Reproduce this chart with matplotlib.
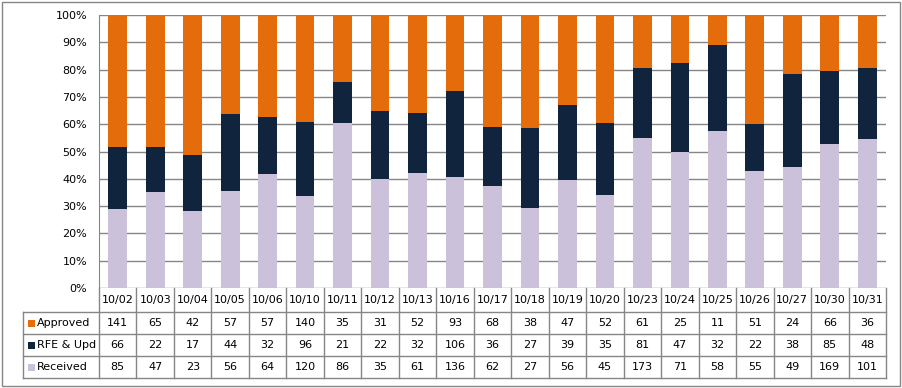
import matplotlib.pyplot as plt
import numpy as np
from matplotlib.patches import Rectangle
from matplotlib.ticker import PercentFormatter

dates = ["10/02", "10/03", "10/04", "10/05", "10/06", "10/10", "10/11", "10/12",
         "10/13", "10/16", "10/17", "10/18", "10/19", "10/20", "10/23", "10/24",
         "10/25", "10/26", "10/27", "10/30", "10/31"]
approved = [141, 65, 42, 57, 57, 140, 35, 31, 52, 93, 68, 38, 47, 52, 61, 25, 11, 51, 24, 66, 36]
rfe_upd = [66, 22, 17, 44, 32, 96, 21, 22, 32, 106, 36, 27, 39, 35, 81, 47, 32, 22, 38, 85, 48]
received = [85, 47, 23, 56, 64, 120, 86, 35, 61, 136, 62, 27, 56, 45, 173, 71, 58, 55, 49, 169, 101]

series = [("Approved", approved, "#E46C0A"),
          ("RFE & Upd", rfe_upd, "#10243E"),
          ("Received", received, "#CCC1DA")]

plt.rcParams["font.family"] = ["DejaVu Sans"]
GRID = "#868686"
FS = 8

W, H = 903, 388
fig = plt.figure(figsize=(W / 100, H / 100), dpi=100)
left, right, top, bottom = 99, 886, 15, 288
ax = fig.add_axes([left / W, (H - bottom) / H, (right - left) / W, (bottom - top) / H])

x = np.arange(len(dates))
total = np.array(approved) + np.array(rfe_upd) + np.array(received)
base = np.zeros(len(dates))
for name, vals, color in reversed(series):
    frac = np.array(vals) / total
    ax.bar(x, frac, 0.5, bottom=base, color=color, zorder=3)
    base += frac

ax.set_xlim(-0.5, len(dates) - 0.5)
ax.set_ylim(0, 1)
ax.set_yticks(np.arange(0, 1.01, 0.1))
ax.yaxis.set_major_formatter(PercentFormatter(1.0, decimals=0))
ax.tick_params(axis="y", length=0, labelsize=FS, pad=8.5)
ax.tick_params(axis="x", length=0, labelbottom=False)
ax.grid(axis="y", color=GRID, linewidth=1, zorder=0)
for s in ["top", "right", "bottom"]:
    ax.spines[s].set_visible(False)
ax.spines["left"].set_color(GRID)

# data table below the plot
tr = ax.get_xaxis_transform()
ph = bottom - top
def ya(py):
    return (bottom - py) / ph

rows_y = [288, 312, 334, 356, 378]
cw = (right - left) / len(dates)
xl = -0.5 - (left - 23) / cw
xr = len(dates) - 0.5
kw = dict(transform=tr, clip_on=False, color=GRID, linewidth=1)
ax.plot([-0.5, -0.5], [ya(288), ya(378)], **kw)
for i in range(1, len(dates) + 1):
    ax.plot([i - 0.5, i - 0.5], [ya(288), ya(378)], **kw)
ax.plot([xl, xl], [ya(312), ya(378)], **kw)
ax.plot([xl, xr], [ya(312), ya(312)], **kw)
for py in rows_y[2:]:
    ax.plot([xl, xr], [ya(py), ya(py)], **kw)

for i, d in enumerate(dates):
    ax.text(i, ya(300), d, transform=tr, ha="center", va="center", fontsize=FS)
for r, (name, vals, color) in enumerate(series):
    yc = ya((rows_y[r + 1] + rows_y[r + 2]) / 2)
    for i, v in enumerate(vals):
        ax.text(i, yc, str(v), transform=tr, ha="center", va="center", fontsize=FS)
    sx = xl + 5 / cw
    ax.add_patch(Rectangle((sx, yc - 3.5 / ph), 7 / cw, 7 / ph, transform=tr,
                           clip_on=False, facecolor=color, edgecolor="none"))
    ax.text(xl + 14 / cw, yc, name, transform=tr, ha="left", va="center", fontsize=FS)

fig.patches.append(Rectangle((2 / W, 2 / H), (900 - 2) / W, (386 - 2) / H,
                             transform=fig.transFigure, fill=False,
                             edgecolor=GRID, linewidth=1))

fig.savefig("out.png", dpi=100)
